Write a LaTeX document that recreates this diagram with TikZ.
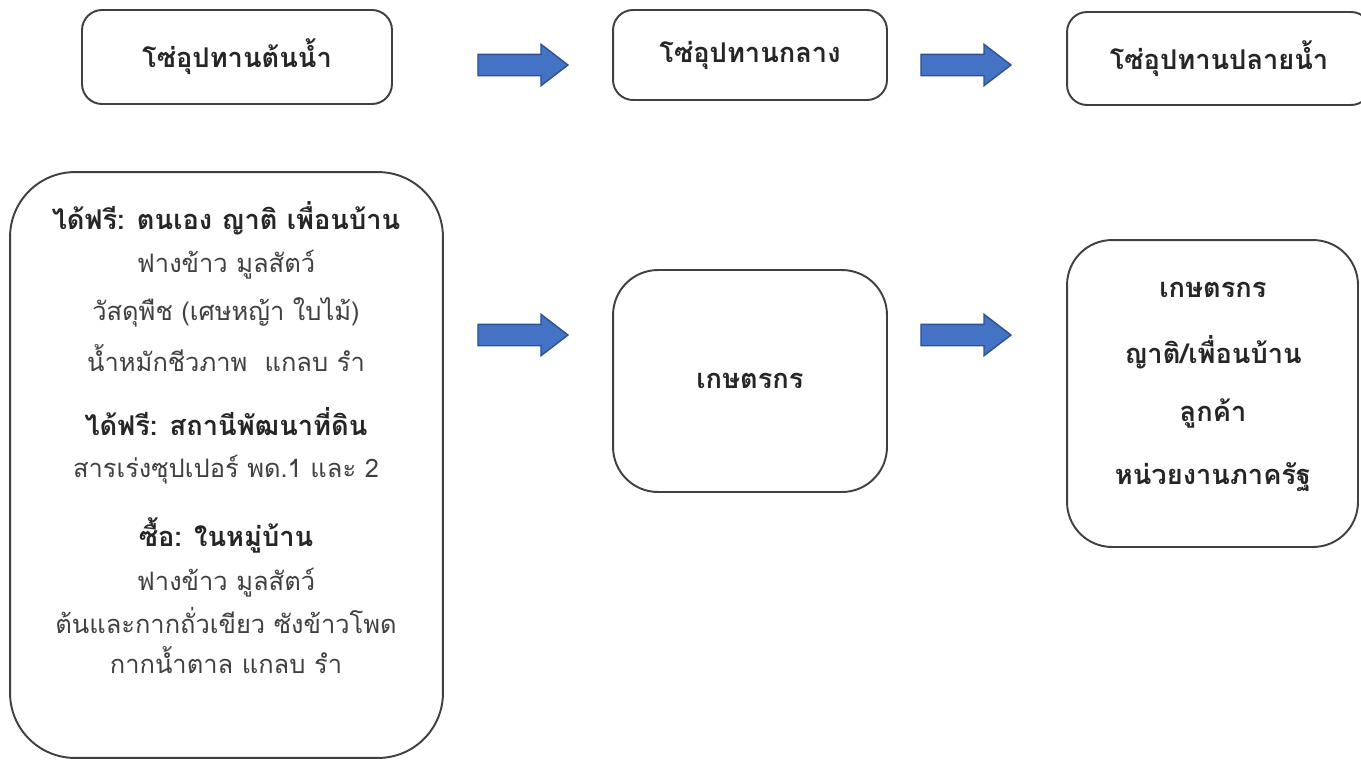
\documentclass[tikz,border=0pt]{standalone}
\usepackage{fontspec}
\newfontfamily\thaifont[Script=Thai]{Loma}
\usetikzlibrary{shapes.arrows}

\definecolor{arrowblue}{HTML}{4472C4}
\definecolor{arrowedge}{HTML}{2F528F}
\definecolor{boxedge}{HTML}{404040}

\tikzset{
  chainbox/.style={draw=boxedge, line width=1.1pt, fill=white, inner sep=0pt},
  blockarrow/.style={single arrow, draw=arrowedge, fill=arrowblue, line width=0.8pt,
    minimum height=1.8cm, inner sep=0.2cm, single arrow head extend=0.2cm,
    single arrow tip angle=75},
  headtext/.style={font=\thaifont\fontsize{15.5}{18}\selectfont\bfseries, text=black!85},
  plaintext/.style={font=\thaifont\fontsize{14.5}{17}\selectfont, text=black!75}
}

\begin{document}
\begin{tikzpicture}[x=0.02cm, y=-0.02cm]
        \useasboundingbox (0,0) rectangle (1361,761);
        \clip (0,0) rectangle (1361,761);
        % top row
        \node[chainbox, rounded corners=0.4cm, minimum width=6.2cm, minimum height=1.88cm, headtext] (up) at (237,57) {โซ่อุปทานต้นน้ำ};
        \node[chainbox, rounded corners=0.4cm, minimum width=5.48cm, minimum height=1.8cm, headtext] (mid) at (750,55) {โซ่อุปทานกลาง};
        \node[chainbox, rounded corners=0.4cm, minimum width=6.08cm, minimum height=1.86cm, headtext] (down) at (1219,58.5) {โซ่อุปทานปลายน้ำ};
        \node[blockarrow] (a1) at (516,65) {};
        \node[blockarrow] (a2) at (959,65) {};
        % bottom row
        \node[chainbox, rounded corners=1.3cm, minimum width=8.66cm, minimum height=11.72cm] (src) at (226.5,465) {};
        \node[chainbox, rounded corners=0.9cm, minimum width=5.48cm, minimum height=4.44cm, headtext] (farm) at (750,381) {เกษตรกร};
        \node[chainbox, rounded corners=0.9cm, minimum width=5.82cm, minimum height=6.14cm] (buyer) at (1212.5,393.5) {};
        \node[blockarrow] (a3) at (516,335) {};
        \node[blockarrow] (a4) at (959,335) {};
        % inputs
        \node[headtext] (s1) at (226,218) {ได้ฟรี: ตนเอง ญาติ เพื่อนบ้าน};
        \node[plaintext] (s2) at (226,265) {ฟางข้าว มูลสัตว์};
        \node[plaintext] (s3) at (226,312) {วัสดุพืช (เศษหญ้า ใบไม้)};
        \node[plaintext] (s4) at (226,358) {น้ำหมักชีวภาพ \ แกลบ รำ};
        \node[headtext] (s5) at (226,422) {ได้ฟรี: สถานีพัฒนาที่ดิน};
        \node[plaintext] (s6) at (226,470) {สารเร่งซุปเปอร์ พด.1 และ 2};
        \node[headtext] (s7) at (226,535) {ซื้อ: ในหมู่บ้าน};
        \node[plaintext] (s8) at (226,583) {ฟางข้าว มูลสัตว์};
        \node[plaintext] (s9) at (226,620) {ต้นและกากถั่วเขียว ซังข้าวโพด};
        \node[plaintext] (s10) at (226,660) {กากน้ำตาล แกลบ รำ};
        % buyers
        \node[headtext] (b1) at (1213,290) {เกษตรกร};
        \node[headtext] (b2) at (1213,352) {ญาติ/เพื่อนบ้าน};
        \node[headtext] (b3) at (1213,413) {ลูกค้า};
        \node[headtext] (b4) at (1213,477) {หน่วยงานภาครัฐ};
    \end{tikzpicture}
\end{document}
